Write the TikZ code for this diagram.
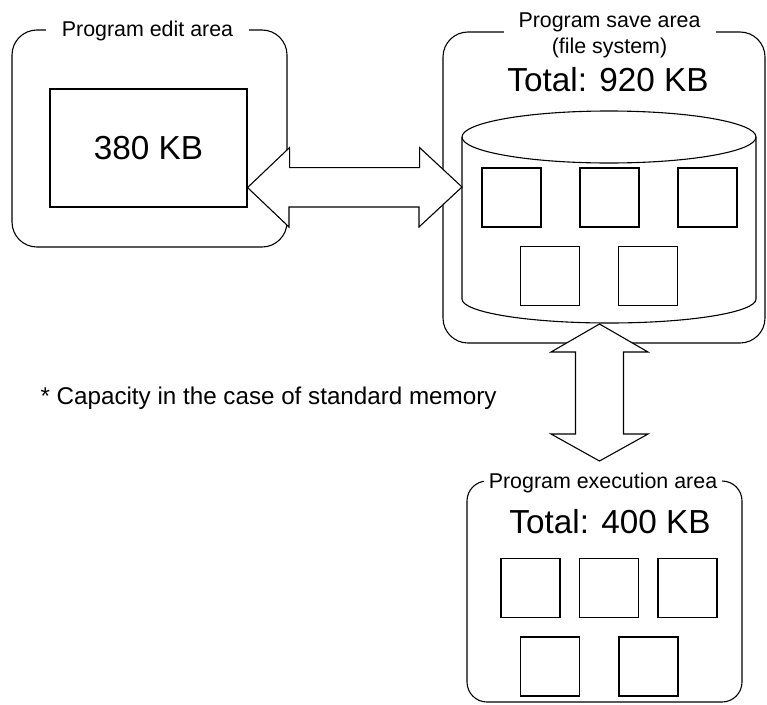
\documentclass[tikz,border=0pt]{standalone}
\usepackage{fontspec}
\setmainfont{Liberation Sans}
\usepackage{tikz}
\usetikzlibrary{positioning}

\begin{document}
\begin{tikzpicture}[x=1pt, y=-1pt, node distance=98pt, line width=1.1pt]
\tikzstyle{areabox} = [rectangle, rounded corners=25pt, draw=black, inner sep=0pt]
\tikzstyle{areatitle} = [fill=white, inner ysep=1pt, font=\fontsize{21.4}{26}\selectfont, align=center]
\tikzstyle{slot} = [rectangle, draw=black, minimum size=59pt, inner sep=0pt]
\tikzstyle{big} = [font=\fontsize{33.3}{38}\selectfont]
\tikzstyle{bigarrow} = [draw=black, fill=white, line join=miter]

\useasboundingbox (0,0) rectangle (767,704);

\node (editarea) [areabox, minimum width=275pt, minimum height=217pt] at (149.5,138.5) {};
\node (editbox) [rectangle, draw=black, minimum width=197pt, minimum height=118pt, big] at (148.5,148) {380 KB};

\node (savearea) [areabox, minimum width=322pt, minimum height=311pt] at (604,187.5) {};
\node (savetotal) [big] at (608,80) {Total: 920 KB};
\draw (462,137) -- (462,299) arc [start angle=180, end angle=0, x radius=147, y radius=24] -- (756,137);
\draw (609,137) ellipse [x radius=147, y radius=26];
\node (file1) [slot] at (511.5,197.5) {};
\node (file2) [slot, right of=file1] {};
\node (file3) [slot, right of=file2] {};
\node (file4) [slot] at (550,276) {};
\node (file5) [slot, right of=file4] {};

\node (execarea) [areabox, rounded corners=20pt, minimum width=275pt, minimum height=221pt] at (604.5,591.5) {};
\node (exectotal) [big] at (610,522) {Total: 400 KB};
\node (run1) [slot] at (530.5,588) {};
\node (run2) [slot, right of=run1, node distance=78.5pt] {};
\node (run3) [slot, right of=run2, node distance=78.5pt] {};
\node (run4) [slot] at (550,666.5) {};
\node (run5) [slot, right of=run4, node distance=98.5pt] {};

\node (note) [anchor=west, inner sep=0pt, font=\fontsize{24.2}{28}\selectfont] at (40,398) {* Capacity in the case of standard memory};

\coordinate (lefttip) at ([yshift=20pt]editbox.south east);
\coordinate (righttip) at (462,187);
\coordinate (uptip) at (599.5,324);
\coordinate (downtip) at (599.5,461);

\draw [bigarrow] (lefttip) -- ++(42,-40) -- ++(0,20) -- ++(130,0) -- ++(0,-20) -- (righttip) -- ++(-43,40) -- ++(0,-20) -- ++(-130,0) -- ++(0,20) -- cycle;
\draw [bigarrow] (uptip) -- ++(48.5,28) -- ++(-24.5,0) -- ++(0,82) -- ++(24.5,0) -- (downtip) -- ++(-48.5,-27) -- ++(24.5,0) -- ++(0,-82) -- ++(-24.5,0) -- cycle;

\node (edittitle) [areatitle, inner xsep=16pt] at (147.5,31) {Program edit area};
\node (savetitle) [areatitle, inner xsep=15pt] at (609.5,35) {Program save area\\(file system)};
\node (exectitle) [areatitle, inner xsep=5pt] at (603,483) {Program execution area};
\end{tikzpicture}
\end{document}
